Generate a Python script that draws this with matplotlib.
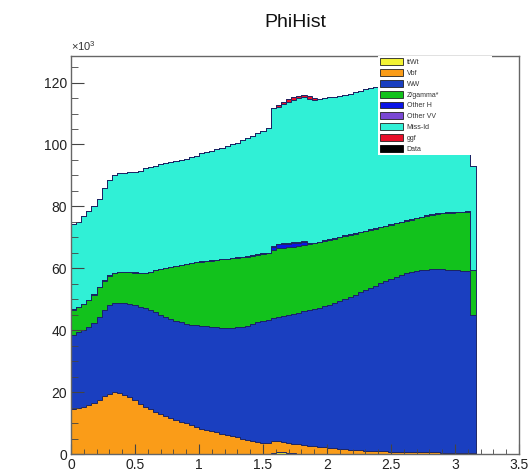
import numpy as np
import matplotlib
matplotlib.use("Agg")
import matplotlib.pyplot as plt
from matplotlib.patches import Patch
from matplotlib.ticker import MultipleLocator

plt.rcParams['font.family'] = ['Liberation Sans', 'DejaVu Sans']
plt.rcParams['mathtext.fontset'] = 'custom'
plt.rcParams['mathtext.rm'] = 'Liberation Sans'

# -------------------------
# data: bin contents (in units of 1e3), bins of width 0.04 from 0 to 3.16
# -------------------------
bin_width = 0.04
n_bins = 79

ttwt = [0.0, 0.0, 0.0, 0.0, 0.0, 0.0, 0.0, 0.0, 0.0, 0.0,
        0.0, 0.0, 0.0, 0.0, 0.0, 0.0, 0.0, 0.0, 0.0, 0.0,
        0.0, 0.0, 0.0, 0.0, 0.0, 0.0, 0.0, 0.0, 0.0, 0.0,
        0.0, 0.0, 0.0, 0.0, 0.0, 0.0, 0.0, 0.0, 0.0, 0.4,
        0.5, 0.5, 0.4, 0.3, 0.0, 0.0, 0.0, 0.0, 0.0, 0.0,
        0.0, 0.0, 0.0, 0.0, 0.0, 0.0, 0.0, 0.0, 0.0, 0.0,
        0.0, 0.0, 0.0, 0.0, 0.0, 0.0, 0.0, 0.0, 0.0, 0.0,
        0.0, 0.0, 0.0, 0.0, 0.0, 0.0, 0.0, 0.0, 0.0]

vbf = [14.5, 14.8, 15.3, 15.8, 16.6, 17.6, 18.6, 19.5, 19.9, 19.8,
       19.2, 18.4, 17.3, 16.3, 15.3, 14.4, 13.7, 13.0, 12.2, 11.6,
       11.0, 10.5, 10.0, 9.4, 8.8, 8.2, 7.8, 7.4, 7.0, 6.6,
       6.2, 5.8, 5.4, 5.0, 4.6, 4.2, 3.8, 3.5, 3.4, 3.9,
       3.6, 3.3, 3.1, 3.0, 3.1, 2.9, 2.7, 2.5, 2.4, 2.2,
       2.1, 1.9, 1.7, 1.5, 1.4, 1.3, 1.2, 1.1, 1.0, 1.0,
       0.9, 0.9, 0.8, 0.8, 0.7, 0.7, 0.6, 0.6, 0.6, 0.5,
       0.5, 0.5, 0.4, 0.4, 0.4, 0.4, 0.3, 0.3, 0.2]

ww = [24.1, 24.5, 24.7, 25.2, 25.8, 26.7, 27.9, 28.5, 29.0, 29.1,
      29.5, 30.0, 30.7, 31.3, 31.9, 32.2, 32.1, 32.0, 32.1, 32.1,
      32.0, 32.0, 32.1, 32.4, 32.8, 33.2, 33.4, 33.6, 33.9, 34.2,
      34.6, 35.0, 35.5, 36.1, 36.9, 37.8, 38.7, 39.5, 40.0, 39.6,
      40.2, 40.8, 41.4, 41.9, 42.5, 43.2, 43.8, 44.4, 44.9, 45.6,
      46.2, 46.9, 47.7, 48.6, 49.4, 50.2, 51.1, 51.9, 52.7, 53.4,
      54.3, 55.0, 55.8, 56.5, 57.2, 57.7, 58.2, 58.5, 58.8, 59.1,
      59.3, 59.3, 59.3, 59.2, 59.1, 59.0, 58.9, 58.7, 44.8]

zgamma = [8.0, 8.2, 8.5, 8.8, 9.1, 9.5, 9.5, 9.6, 9.6, 9.9,
          10.1, 10.3, 10.6, 10.9, 11.3, 12.2, 13.5, 14.7, 15.8, 16.7,
          17.7, 18.5, 19.2, 19.8, 20.3, 20.7, 21.1, 21.5, 21.8, 22.1,
          22.2, 22.4, 22.5, 22.5, 22.3, 22.1, 21.9, 21.7, 21.5, 22.1,
          22.1, 22.0, 21.9, 21.8, 21.6, 21.4, 21.3, 21.2, 21.1, 21.0,
          20.9, 20.8, 20.6, 20.3, 20.0, 19.7, 19.3, 19.0, 18.7, 18.4,
          18.0, 17.7, 17.4, 17.2, 17.0, 16.9, 16.9, 17.0, 17.1, 17.3,
          17.5, 17.8, 18.1, 18.3, 18.5, 18.7, 18.9, 19.2, 14.5]

other_h = [0.1, 0.1, 0.1, 0.1, 0.1, 0.1, 0.1, 0.1, 0.1, 0.1,
           0.1, 0.1, 0.1, 0.1, 0.1, 0.1, 0.1, 0.1, 0.1, 0.1,
           0.1, 0.1, 0.1, 0.1, 0.1, 0.1, 0.1, 0.1, 0.1, 0.1,
           0.1, 0.1, 0.1, 0.1, 0.1, 0.1, 0.1, 0.1, 0.1, 0.9,
           1.3, 1.2, 1.1, 1.1, 1.0, 0.9, 0.3, 0.2, 0.2, 0.2,
           0.2, 0.2, 0.2, 0.2, 0.2, 0.2, 0.2, 0.2, 0.2, 0.2,
           0.2, 0.2, 0.2, 0.2, 0.2, 0.2, 0.2, 0.2, 0.2, 0.2,
           0.2, 0.2, 0.2, 0.2, 0.2, 0.2, 0.2, 0.2, 0.1]

other_vv = [0.0, 0.0, 0.0, 0.0, 0.0, 0.0, 0.0, 0.0, 0.0, 0.0,
            0.0, 0.0, 0.0, 0.0, 0.0, 0.0, 0.0, 0.0, 0.0, 0.0,
            0.0, 0.0, 0.0, 0.0, 0.0, 0.0, 0.0, 0.0, 0.0, 0.0,
            0.0, 0.0, 0.0, 0.0, 0.0, 0.0, 0.0, 0.0, 0.0, 0.3,
            0.3, 0.3, 0.3, 0.3, 0.3, 0.3, 0.0, 0.0, 0.0, 0.0,
            0.0, 0.0, 0.0, 0.0, 0.0, 0.0, 0.0, 0.0, 0.0, 0.0,
            0.0, 0.0, 0.0, 0.0, 0.0, 0.0, 0.0, 0.0, 0.0, 0.0,
            0.0, 0.0, 0.0, 0.0, 0.0, 0.0, 0.0, 0.0, 0.0]

miss_id = [27.6, 27.4, 28.2, 28.6, 28.4, 28.6, 29.9, 30.9, 31.6, 31.9,
           32.0, 32.2, 32.4, 32.9, 33.7, 33.9, 33.8, 33.8, 33.7, 33.8,
           33.9, 34.0, 34.0, 34.1, 34.4, 34.9, 35.2, 35.4, 35.7, 36.0,
           36.4, 36.7, 37.1, 37.6, 38.1, 38.6, 39.1, 39.6, 40.4, 44.6,
           44.0, 44.9, 45.6, 46.1, 46.5, 46.5, 46.7, 46.1, 46.2, 46.0,
           45.8, 45.6, 45.5, 45.4, 45.4, 45.4, 45.5, 45.6, 45.7, 45.7,
           45.6, 45.6, 45.6, 45.5, 45.5, 45.4, 45.3, 45.1, 44.9, 44.7,
           44.4, 44.2, 44.1, 44.1, 44.1, 44.0, 44.1, 44.0, 33.6]

ggf = [0.0, 0.0, 0.0, 0.0, 0.0, 0.0, 0.0, 0.0, 0.0, 0.0,
       0.0, 0.0, 0.0, 0.0, 0.0, 0.0, 0.0, 0.0, 0.0, 0.0,
       0.0, 0.0, 0.0, 0.0, 0.0, 0.0, 0.0, 0.0, 0.0, 0.0,
       0.0, 0.0, 0.0, 0.0, 0.0, 0.0, 0.0, 0.0, 0.0, 0.0,
       0.8, 0.8, 0.8, 0.8, 0.8, 0.8, 0.8, 0.6, 0.0, 0.0,
       0.0, 0.0, 0.0, 0.0, 0.0, 0.0, 0.0, 0.0, 0.0, 0.0,
       0.0, 0.0, 0.0, 0.0, 0.0, 0.0, 0.0, 0.0, 0.0, 0.0,
       0.0, 0.0, 0.0, 0.0, 0.0, 0.0, 0.0, 0.0, 0.0]

samples = ["ttWt", "Vbf", "WW", "Z/gamma*", "Other H", "Other VV", "Miss-Id", "ggf"]
contents = [ttwt, vbf, ww, zgamma, other_h, other_vv, miss_id, ggf]
colors = ["#f2f233", "#fa9c18", "#1a3fc0", "#12c21c", "#0a14e6", "#7a48d4", "#30f0d6", "#e8102a"]

# -------------------------
# draw the stack
# -------------------------
edges = np.arange(n_bins + 1) * bin_width

fig = plt.figure(figsize=(5.28, 4.75), dpi=100)
ax = fig.add_axes([0.1345, 0.0442, 0.8485, 0.838])

bottom = np.zeros(n_bins)
for vals, col in zip(contents, colors):
    top = bottom + np.array(vals)
    ax.stairs(top, edges, baseline=bottom, fill=True, color=col, linewidth=0)
    bottom = top

# outlines of each layer
bottom = np.zeros(n_bins)
for vals in contents:
    top = bottom + np.array(vals)
    ax.stairs(top, edges, baseline=None, color="#1b2464", linewidth=0.7)
    bottom = top
ax.plot([edges[-1], edges[-1]], [0, bottom[-1]], color="#1b2464", linewidth=0.7)

ax.set_xlim(0, 3.5)
ax.set_ylim(0, 128.6)

ax.xaxis.set_minor_locator(MultipleLocator(0.1))
ax.yaxis.set_minor_locator(MultipleLocator(5))
ax.set_xticks([0, 0.5, 1, 1.5, 2, 2.5, 3, 3.5])
ax.set_xticklabels(["0", "0.5", "1", "1.5", "2", "2.5", "3", "3.5"])
ax.set_yticks([0, 20, 40, 60, 80, 100, 120])
ax.set_yticklabels(["0", "20", "40", "60", "80", "100", "120"])

ax.tick_params(axis="both", which="both", direction="in", colors="#444444",
               labelcolor="#222222", labelsize=10)
ax.tick_params(axis="x", which="major", length=7, pad=3)
ax.tick_params(axis="x", which="minor", length=3.5)
ax.tick_params(axis="y", which="major", length=9.5, pad=3)
ax.tick_params(axis="y", which="minor", length=5)
for sp in ax.spines.values():
    sp.set_color("#666666")
    sp.set_linewidth(1.0)

ax.text(0.0, 1.008, r"$\times$10$^{3}$", transform=ax.transAxes,
        fontsize=8, color="#333333", ha="left", va="bottom")
fig.text(0.559, 0.953, "PhiHist", fontsize=14, ha="center", va="center", color="#111111")

# -------------------------
# legend
# -------------------------
handles = [Patch(facecolor=c, edgecolor="#222222", linewidth=0.6) for c in colors]
handles.append(Patch(facecolor="black", edgecolor="black", linewidth=0.6))
labels = samples + ["Data"]
leg = ax.legend(handles, labels, loc="upper left",
                bbox_to_anchor=(0.685, 0.751, 0.255, 0.249), mode="expand",
                fontsize=5, frameon=True, fancybox=False, framealpha=1,
                edgecolor="white", borderpad=0.35, borderaxespad=0,
                handlelength=3.3, handleheight=1.1, labelspacing=0.45,
                handletextpad=0.5)
leg.get_frame().set_linewidth(0)
for t in leg.get_texts():
    t.set_color("#333333")

fig.savefig("out.png", dpi=100)
